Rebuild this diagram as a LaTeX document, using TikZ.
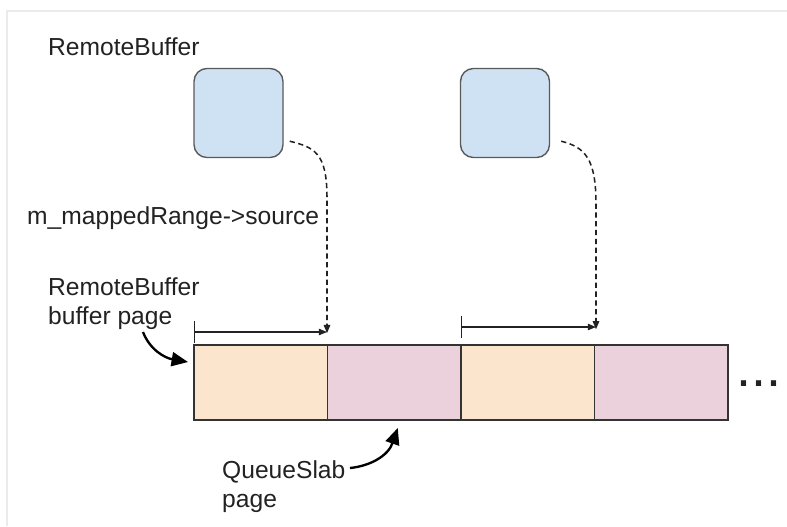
\documentclass[tikz,border=0pt]{standalone}
\usepackage{fontspec}
\setmainfont{Liberation Sans}
\usepackage{xcolor}
\definecolor{buf-fill}{HTML}{CFE2F3}
\definecolor{buf-edge}{HTML}{595959}
\definecolor{page-a}{HTML}{FCE5CD}
\definecolor{page-b}{HTML}{EAD1DC}
\definecolor{page-edge}{HTML}{333333}
\definecolor{ink}{HTML}{222222}
\definecolor{frame-line}{HTML}{EBEBEB}
\usetikzlibrary{positioning,arrows.meta}

\begin{document}
\begin{tikzpicture}[
  x=0.03cm, y=-0.03cm,
  txt/.style={
    inner sep=0pt, text=ink, align=left,
    font=\fontsize{21}{25}\selectfont
  },
  bufbox/.style={
    draw=buf-edge, line width=1.2pt, fill=buf-fill,
    rounded corners=11pt, minimum size=2.67cm, inner sep=0pt
  },
  pagebox/.style={
    draw=page-edge, line width=1.1pt, outer sep=0pt,
    minimum width=4.005cm, minimum height=2.25cm, inner sep=0pt
  },
  rangearrow/.style={
    draw=ink, line width=0.9pt,
    {Bar[width=18pt]}-{Triangle[length=7pt,width=5.5pt]}
  },
  maplink/.style={
    draw=ink, line width=1.3pt, dash pattern=on 4.5pt off 3pt,
    -{Triangle[length=7pt,width=5.5pt]}
  },
  callout/.style={
    draw=black, line width=2pt,
    -{Triangle[length=14pt,width=12pt]}
  }
]
\useasboundingbox (0,0) rectangle (787,526);

% Frame
\draw[frame-line, line width=1pt] (7,526) -- (7,11) -- (787,11);

% Remote buffers
\node[txt, anchor=base west] (title) at (48,55) {RemoteBuffer};
\node[bufbox] (buf1) at (238.5,113) {};
\node[bufbox] (buf2) at (505,113) {};

% Pages
\node[pagebox, fill=page-a, anchor=north west] (page1) at (194,345) {};
\node[pagebox, fill=page-b, right=0pt of page1] (page2) {};
\node[pagebox, fill=page-a, right=0pt of page2] (page3) {};
\node[pagebox, fill=page-b, right=0pt of page3] (page4) {};
\node[txt, anchor=base west, font=\fontsize{46}{46}\selectfont] (dots) at (736,386) {...};

% Mapped ranges
\coordinate (r1s) at (194,332);
\coordinate (r1e) at (327,332);
\coordinate (r2s) at (461,327);
\coordinate (r2e) at (596,327);
\draw[rangearrow] (r1s) -- (r1e);
\draw[rangearrow] (r2s) -- (r2e);

\draw[maplink] ([shift={(6,-17)}]buf1.south east) .. controls +(24,6) and +(0,-45) .. ([yshift=115]r1e.center) -- ([yshift=-1]r1e);
\draw[maplink] ([shift={(11,-17)}]buf2.south east) .. controls +(24,6) and +(0,-45) .. ([yshift=105]r2e.center) -- ([yshift=-2]r2e);

% Labels
\node[txt, anchor=base west] (srclabel) at (27,224) {m\_mappedRange->source};
\node[txt, anchor=north west] (buflabel) at (48,277) {RemoteBuffer\\buffer page};
\node[txt, anchor=north west] (slablabel) at (222,460) {QueueSlab\\page};

% Pointers
\coordinate (p1) at (143,332);
\coordinate (p2) at (350,468);
\draw[callout] (p1) .. controls (150,350) and (165,358) .. ([shift={(-6,17)}]page1.north west);
\draw[callout] (p2) .. controls (370,466) and (388,456) .. ([shift={(3.5,8)}]page2.south);

\end{tikzpicture}
\end{document}
